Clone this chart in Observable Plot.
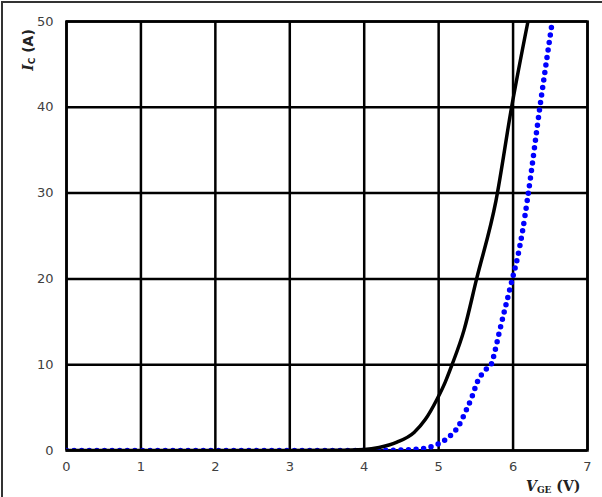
<!DOCTYPE html>
<html>
<head>
<meta charset="utf-8">
<script src="https://cdn.jsdelivr.net/npm/d3@7"></script>
<script src="https://cdn.jsdelivr.net/npm/@observablehq/plot@0.6"></script>
<style>
  html, body { margin: 0; padding: 0; background: #fff; }
  #wrap { position: relative; width: 602px; height: 497px; overflow: hidden; }
  #border { position: absolute; left: 1px; top: 1px; width: 700px; height: 600px;
            border-left: 2px solid #333; border-top: 2px solid #333; }
  .lbl { position: absolute; font-weight: bold; color: #222; white-space: nowrap; }
  .lbl sub { font-size: 9px; vertical-align: -2px; }
  #ylab { left: 28px; top: 50px; transform: translate(-50%, -50%) rotate(-90deg); font-size: 14px; font-family: "DejaVu Sans", sans-serif; }
  #ylab i { font-family: "DejaVu Serif", serif; }
  #xlab { left: 526px; top: 478px; font-size: 14px; font-family: "DejaVu Serif", "Liberation Serif", serif; }
</style>
</head>
<body>
<div id="wrap">
  <div id="border"></div>
  <div id="chart"></div>
  <div class="lbl" id="ylab"><i>I</i><sub>C</sub> (A)</div>
  <div class="lbl" id="xlab"><i>V</i><sub>GE</sub> (V)</div>
</div>
<script>
const xTicks = [0, 1, 2, 3, 4, 5, 6, 7];
const yTicks = [0, 10, 20, 30, 40, 50];

const vgeSolid = [0, 1, 2, 3, 3.6, 4.0, 4.2, 4.44, 4.67, 4.82, 4.98, 5.09, 5.18, 5.34, 5.51, 5.77, 5.98, 6.2];
const icSolid  = [0, 0, 0, 0, 0.03, 0.12, 0.35, 0.97, 2.1, 3.6, 6.0, 8.0, 10, 14, 20, 29.1, 40, 50];

const vgeDotted = [0, 1, 2, 3, 4, 4.5, 4.76, 4.98, 5.14, 5.27, 5.36, 5.45, 5.52, 5.63, 5.71, 5.74, 5.81, 5.99, 6.06, 6.12, 6.2, 6.36, 6.52];
const icDotted  = [0, 0, 0, 0, 0, 0.05, 0.2, 0.7, 1.6, 2.9, 4.5, 6.3, 8.0, 9.4, 10.1, 11, 13.6, 20, 22.5, 25.2, 29.7, 40, 49.6];

const solid = vgeSolid.map((v, i) => ({v, i: icSolid[i]}));
const dotted = vgeDotted.map((v, i) => ({v, i: icDotted[i]}));

const chart = Plot.plot({
  width: 602,
  height: 497,
  marginLeft: 66,
  marginRight: 15,
  marginTop: 21,
  marginBottom: 47,
  style: {fontFamily: "DejaVu Sans, Verdana, sans-serif", fontSize: "13px", color: "#404040", background: "transparent"},
  x: {domain: [0, 7], ticks: xTicks, tickFormat: "d", label: null, tickSize: 0, tickPadding: 11},
  y: {domain: [0, 50], ticks: yTicks, tickFormat: "d", label: null, tickSize: 0, tickPadding: 13},
  marks: [
    Plot.gridX(xTicks, {stroke: "#000", strokeOpacity: 1, strokeWidth: 2.5}),
    Plot.gridY(yTicks, {stroke: "#000", strokeOpacity: 1, strokeWidth: 2.5}),
    Plot.frame({stroke: "#000", strokeWidth: 2.5}),
    Plot.line(dotted, {x: "v", y: "i", stroke: "#0000ff", strokeWidth: 5.5, strokeDasharray: "0 7.6", strokeLinecap: "round", curve: "monotone-x", clip: true}),
    Plot.line(solid, {x: "v", y: "i", stroke: "#000", strokeWidth: 3.5, curve: "monotone-x", clip: true})
  ]
});
document.getElementById("chart").appendChild(chart);
</script>
</body>
</html>
